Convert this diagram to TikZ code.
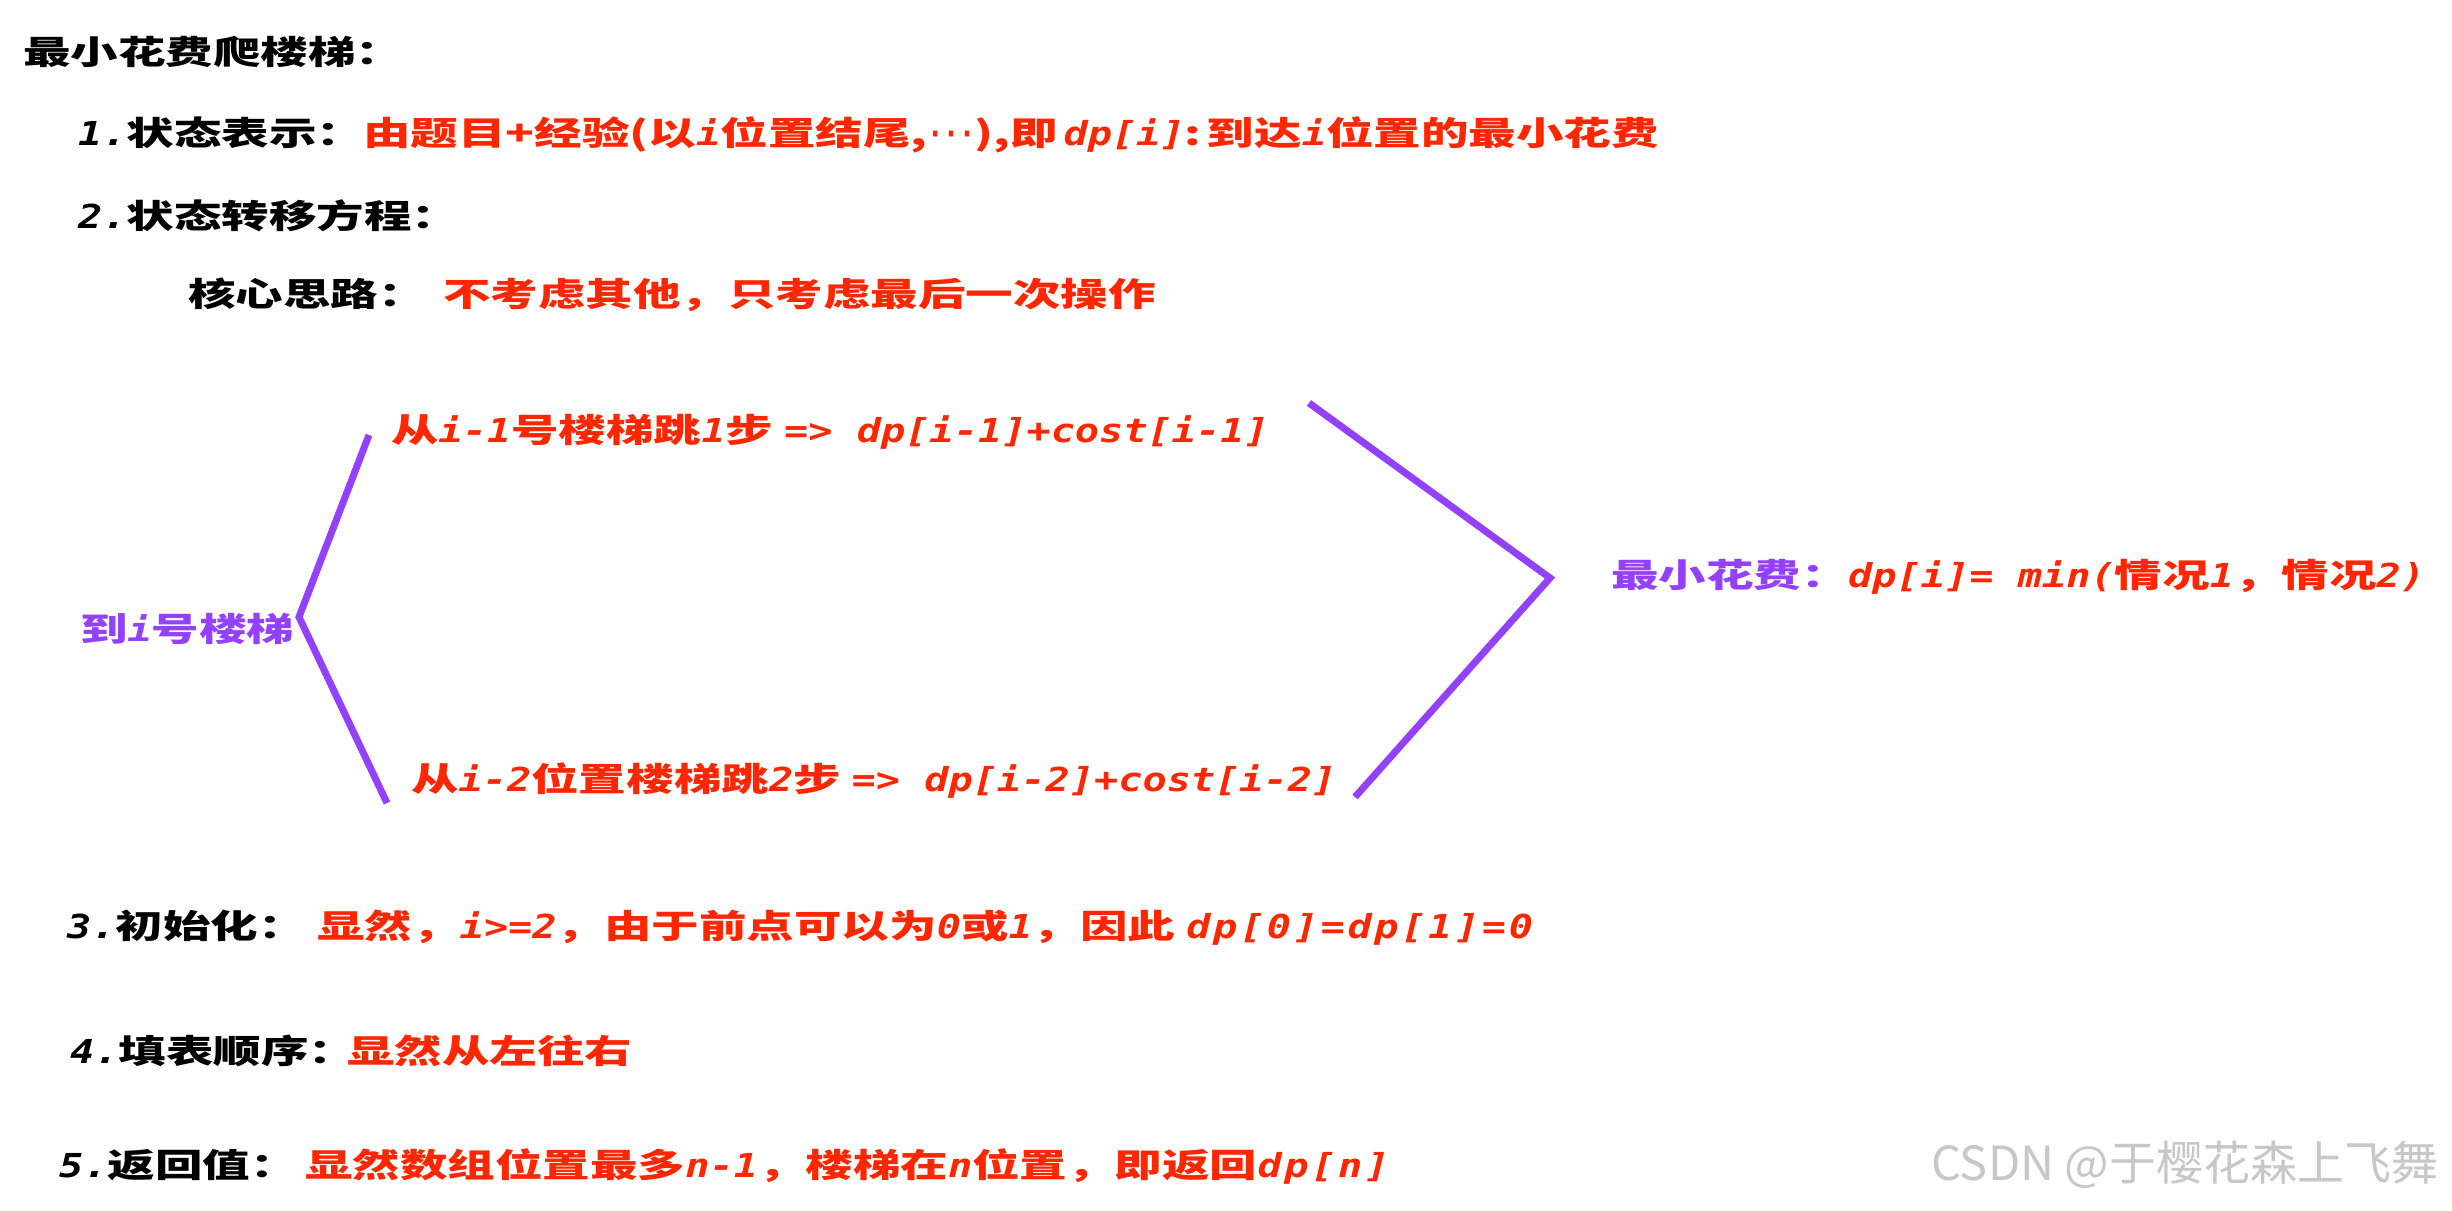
\documentclass[tikz,border=0pt]{standalone}
\usepackage{fontspec}
\newfontfamily\cjk{Noto Sans CJK SC}[FakeStretch=1.44]
\newfontfamily\latit{DejaVu Sans Mono}[FakeStretch=1.22]
\newfontfamily\wmfont{Noto Sans CJK SC}
\definecolor{myred}{RGB}{255,38,0}
\definecolor{mypurple}{RGB}{147,64,255}
\newcommand\I[1]{{\latit\bfseries\itshape #1}}
\newcommand\Iw[1]{{\latit\bfseries\itshape\addfontfeatures{LetterSpace=8}#1}}
\tikzset{
  txt/.style={anchor=west, inner sep=0pt, text height=30pt, text depth=5pt,
    font=\cjk\bfseries\fontsize{33}{33}\selectfont},
  tk/.style={txt, text=black},
  tr/.style={txt, text=myred},
  tp/.style={txt, text=mypurple},
  wm/.style={anchor=west, inner sep=0pt, text=black!22, font=\wmfont\fontsize{47}{47}\selectfont},
  brk/.style={draw=mypurple, line width=7pt}
}
\begin{document}
\begin{tikzpicture}[x=1pt,y=-1pt]
\useasboundingbox (0,0) rectangle (2452,1210);
\fill[white] (0,0) rectangle (2452,1210);

\node[tk] (title) at (23,52) {最小花费爬楼梯：};
\node[tk] (s1) at (78,133) {\I{1.}状态表示：};
\node[tr] (s1t) at (363,133) {由题目+经验(以\I{i}位置结尾,{\latit\bfseries\addfontfeatures{FakeStretch=0.8}···}),即\,\I{dp[i]}:\,到达\I{i}位置的最小花费};
\node[tk] (s2) at (78,216) {\I{2.}状态转移方程：};
\node[tk] (core) at (188,294) {核心思路：};
\node[tr] (coret) at (443,294) {不考虑其他，只考虑最后一次操作};

\node[tr] (c1) at (391,430) {从\I{i-1}号楼梯跳\I{1}步 \I{=> dp[i-1]+cost[i-1]}};
\node[tp] (to) at (80,629) {到\I{i}号楼梯};
\node[tr] (c2) at (411,779) {从\I{i-2}位置楼梯跳\I{2}步 \I{=> dp[i-2]+cost[i-2]}};
\node[tp] (minl) at (1611,575) {最小花费：};
\node[tr] (minr) at (1848,575) {\I{dp[i]= min(}情况\I{1}，情况\I{2)}};

\coordinate (lt) at (369,435);
\coordinate (lv) at (299,617);
\coordinate (lb) at (387,803);
\coordinate (rt) at (1309,403);
\coordinate (rv) at (1550,578);
\coordinate (rb) at (1355,797);
\draw[brk] (lt) -- (lv) -- (lb);
\draw[brk] (rt) -- (rv) -- (rb);

\node[tk] (s3) at (67,926) {\I{3.}初始化：};
\node[tr] (s3t) at (317,926) {显然，\I{i>=2}，由于前点可以为\I{0}或\I{1}，因此 \Iw{dp[0]=dp[1]=0}};
\node[tk] (s4) at (70,1051) {\I{4.}填表顺序：};
\node[tr] (s4t) at (347,1051) {显然从左往右};
\node[tk] (s5) at (59,1165) {\I{5.}返回值：};
\node[tr] (s5t) at (305,1165) {显然数组位置最多\I{n-1}，楼梯在\I{n}位置，即返回\Iw{dp[n]}};

\node[wm] (wm) at (1931,1165) {CSDN @于樱花森上飞舞};
\end{tikzpicture}
\end{document}
